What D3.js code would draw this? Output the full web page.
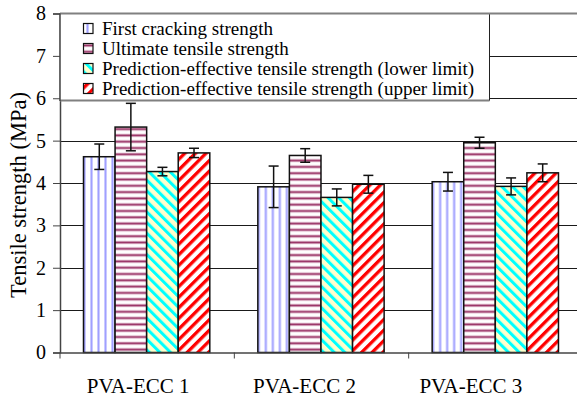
<!DOCTYPE html>
<html>
<head>
<meta charset="utf-8">
<script src="https://cdn.jsdelivr.net/npm/d3@7"></script>
<style>
  html, body { margin: 0; padding: 0; background: #fff; }
  svg { display: block; }
  svg text { font-family: "Liberation Serif", "Times New Roman", serif; }
</style>
</head>
<body>
<svg id="chart" width="577" height="401"></svg>
<script>
const categories = ["PVA-ECC 1", "PVA-ECC 2", "PVA-ECC 3"];
const seriesNames = [
  "First cracking strength",
  "Ultimate tensile strength",
  "Prediction-effective tensile strength (lower limit)",
  "Prediction-effective tensile strength (upper limit)"
];
const firstCracking = [4.62, 3.91, 4.03];
const ultimateTensile = [5.32, 4.65, 4.95];
const predLower = [4.27, 3.66, 3.92];
const predUpper = [4.71, 3.97, 4.24];
const errFirstCracking = [0.30, 0.49, 0.22];
const errUltimateTensile = [0.56, 0.16, 0.13];
const errPredLower = [0.10, 0.20, 0.20];
const errPredUpper = [0.11, 0.21, 0.21];
const yTicks = [0, 1, 2, 3, 4, 5, 6, 7, 8];

const seriesValues = [firstCracking, ultimateTensile, predLower, predUpper];
const seriesErrors = [errFirstCracking, errUltimateTensile, errPredLower, errPredUpper];
const patternIds = ["pVert", "pHoriz", "pCyan", "pRed"];
const FONT = "'Liberation Serif', 'Times New Roman', serif";

const svg = d3.select("#chart");
const defs = svg.append("defs");

const p1 = defs.append("pattern").attr("id", "pVert").attr("patternUnits", "userSpaceOnUse")
  .attr("width", 7).attr("height", 6);
p1.append("rect").attr("width", 7).attr("height", 6).attr("fill", "#ffffff");
p1.append("rect").attr("x", 2).attr("width", 3).attr("height", 6).attr("fill", "#d8d8ff");
p1.append("rect").attr("x", 2.75).attr("width", 1.5).attr("height", 6).attr("fill", "#a0a0ff");

const p2 = defs.append("pattern").attr("id", "pHoriz").attr("patternUnits", "userSpaceOnUse")
  .attr("width", 6).attr("height", 6.3);
p2.append("rect").attr("width", 6).attr("height", 6.3).attr("fill", "#ffffff");
p2.append("rect").attr("y", 1.5).attr("width", 6).attr("height", 3.2).attr("fill", "#e0b8cc");
p2.append("rect").attr("y", 2.3).attr("width", 6).attr("height", 1.6).attr("fill", "#993366");

const p3 = defs.append("pattern").attr("id", "pCyan").attr("patternUnits", "userSpaceOnUse")
  .attr("width", 7.5).attr("height", 7.5).attr("patternTransform", "rotate(-45)");
p3.append("rect").attr("width", 7.5).attr("height", 7.5).attr("fill", "#ffffcc");
p3.append("rect").attr("x", 0).attr("width", 3).attr("height", 7.5).attr("fill", "#00ffff");

const p4 = defs.append("pattern").attr("id", "pRed").attr("patternUnits", "userSpaceOnUse")
  .attr("width", 7.5).attr("height", 7.5).attr("patternTransform", "rotate(45)");
p4.append("rect").attr("width", 7.5).attr("height", 7.5).attr("fill", "#ffffff");
p4.append("rect").attr("x", 0).attr("width", 3.3).attr("height", 7.5).attr("fill", "#ff0000");

const plotLeft = 60, plotRight = 583, plotTop = 13.5, plotBottom = 352.5;

const x0 = d3.scaleBand().domain(categories).range([plotLeft, plotRight]).padding(0);
const x1 = d3.scaleBand().domain(d3.range(seriesNames.length)).range([23.5, 149.8]).padding(0);
const xLabel = d3.scaleBand().domain(categories).range([55, 554]).padding(0);
const y = d3.scaleLinear().domain([0, 8]).range([plotBottom, plotTop]);

svg.append("g").selectAll("line").data(yTicks.filter(t => t > 0 && t < 8)).join("line")
  .attr("x1", plotLeft).attr("x2", 577)
  .attr("y1", d => Math.round(y(d)) + 0.5).attr("y2", d => Math.round(y(d)) + 0.5)
  .attr("stroke", "#1a1a1a").attr("stroke-width", 1);

const groups = svg.append("g").selectAll("g").data(categories).join("g")
  .attr("transform", d => `translate(${x0(d)},0)`);

groups.each(function(cat, ci) {
  const g = d3.select(this);
  seriesNames.forEach((s, si) => {
    const v = seriesValues[si][ci];
    g.append("rect")
      .attr("x", x1(si)).attr("width", x1.bandwidth())
      .attr("y", y(v)).attr("height", y(0) - y(v))
      .attr("fill", `url(#${patternIds[si]})`)
      .attr("stroke", "#111").attr("stroke-width", 1.5);
  });
});

groups.each(function(cat, ci) {
  const g = d3.select(this);
  seriesNames.forEach((s, si) => {
    const v = seriesValues[si][ci], e = seriesErrors[si][ci];
    const cx = x1(si) + x1.bandwidth() / 2;
    const eg = g.append("g").attr("stroke", "#111").attr("stroke-width", 1.5);
    eg.append("line").attr("x1", cx).attr("x2", cx).attr("y1", y(v + e)).attr("y2", y(v - e));
    eg.append("line").attr("x1", cx - 5).attr("x2", cx + 5).attr("y1", y(v + e)).attr("y2", y(v + e));
    eg.append("line").attr("x1", cx - 5).attr("x2", cx + 5).attr("y1", y(v - e)).attr("y2", y(v - e));
  });
});

const yAxis = d3.axisLeft(y).tickValues(yTicks).tickSize(7).tickPadding(7).tickFormat(d3.format("d"));
const ya = svg.append("g").attr("transform", `translate(${plotLeft},0)`).call(yAxis);
ya.select(".domain").attr("stroke", "#444").attr("stroke-width", 1.5);
ya.selectAll(".tick line").attr("stroke", "#444").attr("stroke-width", 1);
ya.selectAll(".tick text").style("font-size", "20px").style("font-family", FONT).attr("fill", "#000");

const xa = svg.append("g").attr("transform", `translate(0,${plotBottom})`).call(d3.axisBottom(x0).tickSize(0).tickFormat(""));
xa.select(".domain").attr("stroke", "#444").attr("stroke-width", 1.5);
xa.selectAll(".tick").remove();
svg.append("g").selectAll("line").data(categories).join("line")
  .attr("x1", d => x0(d)).attr("x2", d => x0(d))
  .attr("y1", plotBottom).attr("y2", plotBottom + 6)
  .attr("stroke", "#444").attr("stroke-width", 1);

const xl = svg.append("g").attr("transform", `translate(0,${plotBottom})`)
  .call(d3.axisBottom(xLabel).tickSize(0).tickPadding(26));
xl.select(".domain").remove();
xl.selectAll(".tick text").style("font-size", "21px").style("font-family", FONT).attr("fill", "#000");

svg.append("text")
  .attr("transform", `translate(26,${195}) rotate(-90)`)
  .attr("text-anchor", "middle").style("font-size", "22.5px").style("font-family", FONT)
  .text("Tensile strength (MPa)");

const lg = svg.append("g");
lg.append("rect").attr("x", plotLeft).attr("y", plotTop).attr("width", 429.5).attr("height", 87)
  .attr("fill", "#fff").attr("stroke", "none");
lg.append("line").attr("x1", plotLeft).attr("x2", 489.5).attr("y1", 100.5).attr("y2", 100.5)
  .attr("stroke", "#808080").attr("stroke-width", 2);
lg.append("line").attr("x1", 489.5).attr("x2", 489.5).attr("y1", plotTop).attr("y2", 100.5)
  .attr("stroke", "#222").attr("stroke-width", 1);
lg.append("line").attr("x1", plotLeft).attr("x2", 577).attr("y1", plotTop).attr("y2", plotTop)
  .attr("stroke", "#808080").attr("stroke-width", 2);
lg.append("line").attr("x1", plotLeft).attr("x2", plotLeft).attr("y1", plotTop).attr("y2", 101)
  .attr("stroke", "#444").attr("stroke-width", 1.5);

const items = lg.selectAll("g.item").data(seriesNames).join("g").attr("class", "item")
  .attr("transform", (d, i) => `translate(0,${35 + i * 20})`);
items.append("rect").attr("x", 83.5).attr("y", -11.5).attr("width", 9.5).attr("height", 10)
  .attr("fill", (d, i) => `url(#${patternIds[i]})`).attr("stroke", "#111").attr("stroke-width", 1.2);
items.append("text").attr("x", 102).attr("y", 0).style("font-size", "19px").style("font-family", FONT).text(d => d);
</script>
</body>
</html>
